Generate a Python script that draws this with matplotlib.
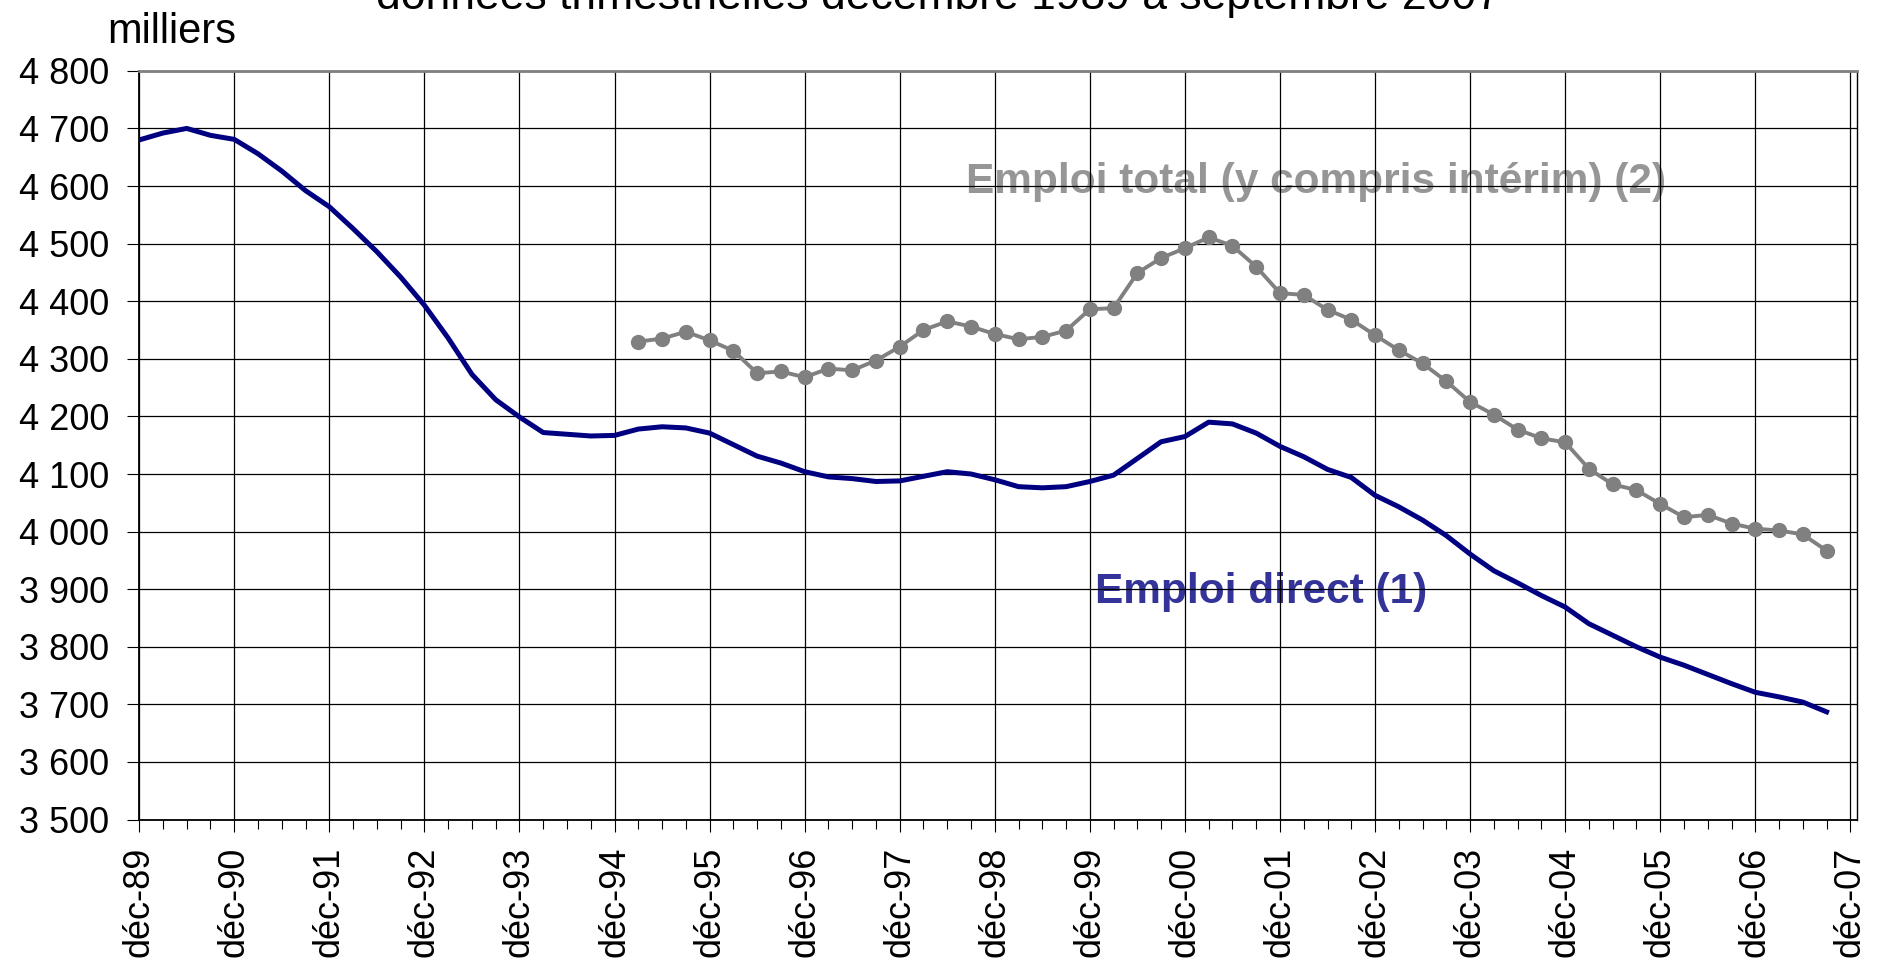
import numpy as np
import matplotlib
matplotlib.use("Agg")
import matplotlib.pyplot as plt
from matplotlib.ticker import FuncFormatter, MultipleLocator

plt.rcParams['font.family'] = ['Liberation Sans', 'DejaVu Sans']

# trimestres de déc-89 (0) à sep-07 (71)
labels = ['déc-%02d' % (y % 100) for y in range(1989, 2008)]

emploi_direct = [
    4680, 4692, 4700, 4688, 4681, 4656, 4626, 4592, 4564, 4526, 4486, 4442,
    4393, 4336, 4273, 4229, 4199, 4172, 4169, 4166, 4167, 4178, 4182, 4180,
    4171, 4151, 4131, 4119, 4104, 4095, 4092, 4087, 4088, 4096, 4104, 4100,
    4090, 4078, 4076, 4078, 4087, 4098, 4127, 4156, 4165, 4190, 4187, 4171,
    4148, 4130, 4108, 4094, 4063, 4043, 4020, 3993, 3961, 3932, 3911, 3889,
    3869, 3840, 3820, 3800, 3782, 3768, 3752, 3736, 3721, 3713, 3704, 3687,
]

# emploi total à partir de mar-95 (indice 21)
debut_total = 21
emploi_total = [
    4330, 4335, 4347, 4332, 4314, 4275, 4278, 4268, 4283, 4280, 4297, 4321,
    4350, 4365, 4356, 4343, 4334, 4338, 4349, 4386, 4388, 4449, 4475, 4492,
    4511, 4496, 4460, 4414, 4411, 4385, 4368, 4341, 4315, 4292, 4261, 4225,
    4203, 4177, 4162, 4155, 4109, 4082, 4072, 4048, 4025, 4029, 4014, 4005,
    4002, 3995, 3967,
]

x_direct = np.arange(len(emploi_direct))
x_total = np.arange(debut_total, debut_total + len(emploi_total))

fig = plt.figure(figsize=(18.81, 9.65), dpi=100)
ax = fig.add_axes([0.074, 0.1507, 0.9135, 0.7759])

ax.plot(x_direct, emploi_direct, color='#000080', lw=3.6, zorder=3)
ax.plot(x_total, emploi_total, color='#808080', lw=2.8, marker='o',
        markersize=10, zorder=3)

ax.set_xlim(0, 72.3)
ax.set_ylim(3500, 4800)

ax.set_xticks(np.arange(0, 73, 4))
ax.set_xticklabels(labels, rotation=90, fontsize=26)
ax.xaxis.set_minor_locator(MultipleLocator(1))
ax.yaxis.set_major_locator(MultipleLocator(100))
ax.yaxis.set_major_formatter(FuncFormatter(lambda v, p: f"{int(v):,}".replace(',', ' ')))
ax.tick_params(axis='y', labelsize=26, length=8.5, width=0.8, pad=13)
ax.tick_params(axis='x', which='major', length=8.5, width=0.8, pad=11)
ax.tick_params(axis='x', which='minor', length=6.5, width=0.8)

ax.set_axisbelow(True)
ax.grid(True, which='major', color='black', lw=0.9)

for s in ['left', 'bottom']:
    ax.spines[s].set_color('black')
    ax.spines[s].set_linewidth(1.3)
ax.spines['top'].set_color('#808080')
ax.spines['top'].set_linewidth(2)
ax.spines['right'].set_color('black')
ax.spines['right'].set_linewidth(1)

ax.text(34.8, 4607, 'Emploi total (y compris intérim) (2)', color='#969696',
        fontsize=30.5, fontweight='bold', va='center', ha='left', zorder=0.3)
ax.text(40.2, 3895, 'Emploi direct (1)', color='#333399',
        fontsize=30.5, fontweight='bold', va='center', ha='left', zorder=0.3)

fig.text(0.057, 0.955, 'milliers', fontsize=30, ha='left', va='baseline')
fig.text(0.4987, 0.991, 'données trimestrielles décembre 1989 à septembre 2007',
         fontsize=32, ha='center', va='baseline')

fig.savefig('out.png', dpi=100)
